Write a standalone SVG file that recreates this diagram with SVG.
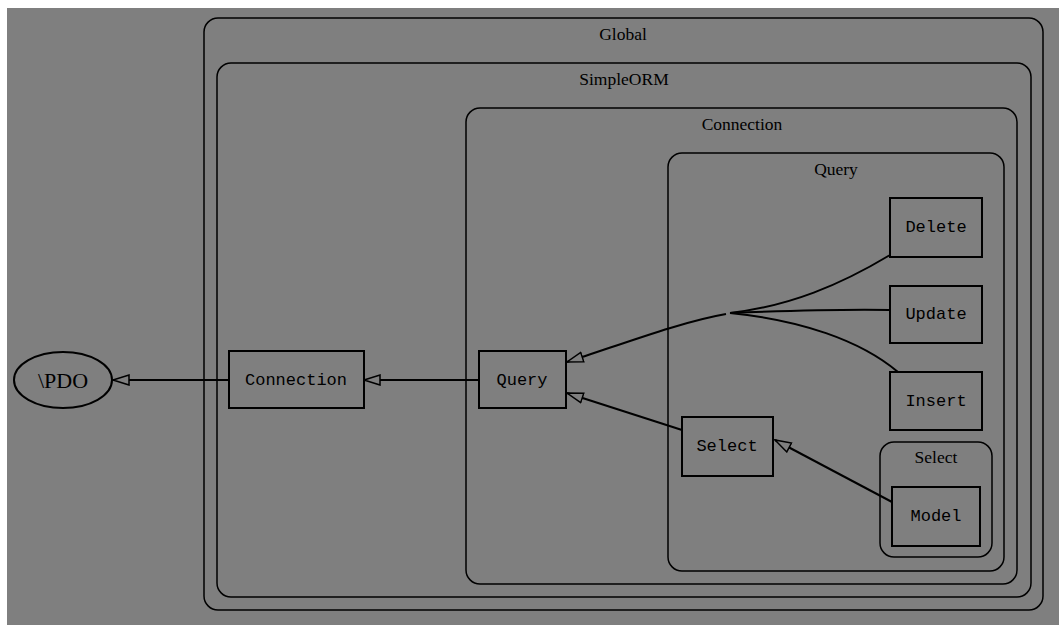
<svg xmlns="http://www.w3.org/2000/svg" width="1059" height="625" viewBox="0 0 1059 625">
<style>
.cluster{fill:none;stroke:#000;stroke-width:1.5}
.node{fill:none;stroke:#000;stroke-width:2}
.clabel{font-family:"Liberation Serif",serif;font-size:17.5px;fill:#000;text-anchor:middle}
.nlabel{font-family:"Liberation Mono",monospace;font-size:17px;fill:#000;text-anchor:middle}
.edge{fill:none;stroke:#000;stroke-width:2}
</style>
<defs>
<marker id="hollow" viewBox="0 0 18 12" refX="17" refY="6" markerWidth="18" markerHeight="12" markerUnits="userSpaceOnUse" orient="auto">
<path d="M1,1 L17,6 L1,11 Z" fill="#7f7f7f" stroke="#000" stroke-width="1.5"/>
</marker>
</defs>
<rect x="7" y="8" width="1052" height="617" fill="#7f7f7f"/>
<g id="cluster_global">
<rect class="cluster" x="204" y="18" width="839" height="592" rx="14"/>
<text class="clabel" x="623" y="40">Global</text>
</g>
<g id="cluster_simpleorm">
<rect class="cluster" x="217" y="63" width="814" height="534" rx="14"/>
<text class="clabel" x="624" y="85">SimpleORM</text>
</g>
<g id="cluster_connection">
<rect class="cluster" x="466" y="108" width="551" height="476" rx="14"/>
<text class="clabel" x="742" y="130">Connection</text>
</g>
<g id="cluster_query">
<rect class="cluster" x="668" y="153" width="336" height="418" rx="14"/>
<text class="clabel" x="836" y="175">Query</text>
</g>
<g id="cluster_select">
<rect class="cluster" x="880" y="442" width="112" height="115" rx="14"/>
<text class="clabel" x="936" y="463">Select</text>
</g>
<g id="connectors">
<path class="edge" d="M229,380 L113,380" marker-end="url(#hollow)"/>
<path class="edge" d="M479,380 L364,380" marker-end="url(#hollow)"/>
<path class="edge" d="M726,314 C680,322 620,345 567,362" marker-end="url(#hollow)"/>
<path class="edge" d="M890,255 C840,285 790,306 730,313"/>
<path class="edge" d="M890,310 C830,309 780,311 730,313"/>
<path class="edge" d="M898,372 C860,340 800,320 730,313"/>
<path class="edge" d="M682,430 L567,393" marker-end="url(#hollow)"/>
<path class="edge" d="M892,502 L775,440" marker-end="url(#hollow)"/>
</g>
<g id="node_pdo">
<ellipse class="node" cx="63" cy="380" rx="49" ry="28" stroke-width="1.5"/>
<text x="63" y="388" font-family="Liberation Serif, serif" font-size="22" text-anchor="middle" fill="#000">\PDO</text>
</g>
<g id="node_connection">
<rect class="node" x="229" y="351" width="135" height="57"/>
<text class="nlabel" x="296" y="385">Connection</text>
</g>
<g id="node_query">
<rect class="node" x="479" y="351" width="87" height="57"/>
<text class="nlabel" x="522" y="385">Query</text>
</g>
<g id="node_select">
<rect class="node" x="682" y="417" width="91" height="59"/>
<text class="nlabel" x="727" y="451">Select</text>
</g>
<g id="node_delete">
<rect class="node" x="890" y="198" width="92" height="59"/>
<text class="nlabel" x="936" y="232">Delete</text>
</g>
<g id="node_update">
<rect class="node" x="890" y="286" width="92" height="57"/>
<text class="nlabel" x="936" y="319">Update</text>
</g>
<g id="node_insert">
<rect class="node" x="890" y="372" width="92" height="58"/>
<text class="nlabel" x="936" y="406">Insert</text>
</g>
<g id="node_model">
<rect class="node" x="892" y="487" width="88" height="59"/>
<text class="nlabel" x="936" y="521">Model</text>
</g>
</svg>
